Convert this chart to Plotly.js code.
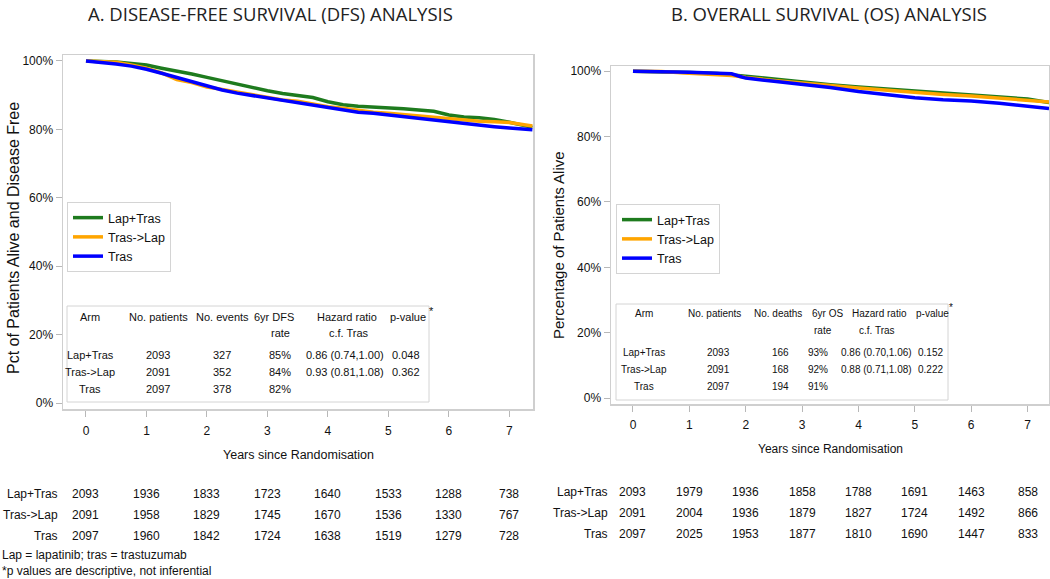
<!DOCTYPE html>
<html>
<head>
<meta charset="utf-8">
<script src="https://cdn.plot.ly/plotly-3.0.1.min.js"></script>
<style>
html,body{margin:0;padding:0;background:#fff;}
#chart{width:1050px;height:579px;}
</style>
</head>
<body>
<div id="chart"></div>
<script>
// ---------------- DATA ----------------
const armNames = ['Lap+Tras', 'Tras->Lap', 'Tras'];
const armColors = ['#1E7B1E', '#FFA500', '#0000FF'];

// DFS Kaplan-Meier curves (years, % alive and disease free)
const dfsYears = [0,0.25,0.5,0.75,1,1.25,1.5,1.75,2,2.25,2.5,2.75,3,3.25,3.5,3.75,4,4.25,4.5,4.75,5,5.25,5.5,5.75,6,6.25,6.5,6.75,7,7.38];
const dfsLapTras = [100,99.9,99.7,99.3,98.8,97.9,97.1,96.2,95.2,94.2,93.3,92.3,91.3,90.5,89.8,89.3,88.1,87.2,86.8,86.6,86.3,86.0,85.7,85.3,84.2,83.6,83.4,82.9,82.1,80.6];
const dfsTrasLap = [100,99.9,99.6,98.8,97.9,96.5,94.6,93.7,92.4,91.7,90.9,90.3,89.4,88.6,88.2,87.4,86.6,86.2,85.5,85.0,84.7,84.3,83.9,83.5,83.0,82.7,82.4,82.2,82.0,81.0];
const dfsTras = [100,99.6,99.1,98.5,97.6,96.4,95.2,94.0,92.7,91.5,90.6,89.9,89.0,88.3,87.6,86.9,86.2,85.5,85.0,84.7,84.2,83.7,83.1,82.7,82.2,81.6,81.2,80.8,80.4,79.9];

// OS Kaplan-Meier curves (years, % alive)
const osYears = [0,0.5,1,1.5,1.75,1.9,2,2.5,3,3.5,4,4.5,5,5.5,6,6.5,7,7.38];
const osLapTras = [100,99.9,99.6,99.3,99.0,98.8,98.5,97.6,96.7,95.9,95.2,94.6,94.0,93.3,92.7,92.1,91.5,90.4];
const osTrasLap = [100,99.9,99.4,99.0,98.7,98.4,98.1,97.2,96.3,95.6,94.9,94.2,93.5,92.9,92.4,91.8,91.3,90.6];
const osTras = [100,99.9,99.7,99.4,99.2,98.4,97.9,96.9,96.0,95.0,93.8,92.8,91.9,91.3,90.9,90.2,89.2,88.6];

// axis ticks
const xTickVals = [0,1,2,3,4,5,6,7];
const yTickVals = [0,20,40,60,80,100];
const yTickText = ['0%','20%','40%','60%','80%','100%'];

// summary tables
const dfsPatients = ['2093','2091','2097'];
const dfsEvents = ['327','352','378'];
const dfsRate = ['85%','84%','82%'];
const dfsHR = ['0.86 (0.74,1.00)','0.93 (0.81,1.08)',''];
const dfsP = ['0.048','0.362',''];
const osPatients = ['2093','2091','2097'];
const osDeaths = ['166','168','194'];
const osRate = ['93%','92%','91%'];
const osHR = ['0.86 (0.70,1.06)','0.88 (0.71,1.08)',''];
const osP = ['0.152','0.222',''];

// numbers at risk
const riskYears = [0,1,2,3,4,5,6,7];
const dfsRiskLapTras = [2093,1936,1833,1723,1640,1533,1288,738];
const dfsRiskTrasLap = [2091,1958,1829,1745,1670,1536,1330,767];
const dfsRiskTras = [2097,1960,1842,1724,1638,1519,1279,728];
const osRiskLapTras = [2093,1979,1936,1858,1788,1691,1463,858];
const osRiskTrasLap = [2091,2004,1936,1879,1827,1724,1492,866];
const osRiskTras = [2097,2025,1953,1877,1810,1690,1447,833];

// ---------------- LAYOUT HELPERS ----------------
const W = 1050, H = 579;
const px = x => x / W;
const py = y => 1 - y / H;
const FN = "'Liberation Sans', Arial, sans-serif";
const TXT = '#111';

const traces = [];
const dfsSeries = [dfsLapTras, dfsTrasLap, dfsTras];
const osSeries = [osLapTras, osTrasLap, osTras];
for (let i = 0; i < 3; i++) {
  traces.push({x: dfsYears, y: dfsSeries[i], type: 'scatter', mode: 'lines', name: armNames[i],
    line: {color: armColors[i], width: 3.5}, xaxis: 'x', yaxis: 'y', legend: 'legend', hoverinfo: 'skip'});
}
for (let i = 0; i < 3; i++) {
  traces.push({x: osYears, y: osSeries[i], type: 'scatter', mode: 'lines', name: armNames[i],
    line: {color: armColors[i], width: 3.5}, xaxis: 'x2', yaxis: 'y2', legend: 'legend2', hoverinfo: 'skip'});
}

const ann = [];
function A(text, x, y, opts, size) {
  ann.push(Object.assign({text: text, x: px(x), y: py(y), xref: 'paper', yref: 'paper',
    showarrow: false, xanchor: 'center', yanchor: 'middle',
    font: {family: FN, size: size || 11, color: TXT}}, opts || {}));
}

// main titles
const TF = {family: "'Open Sans', 'Noto Sans', sans-serif", size: 18.5, color: '#222'};
A('A. DISEASE-FREE SURVIVAL (DFS) ANALYSIS', 270, 13.5, {font: TF});
A('B. OVERALL SURVIVAL (OS) ANALYSIS', 829, 13.5, {font: TF});

// y axis titles
A('Pct of Patients Alive and Disease Free', 13, 238, {textangle: -90, font: {family: FN, size: 16, color: TXT}});
A('Percentage of Patients Alive', 558, 245, {textangle: -90, font: {family: FN, size: 15, color: TXT}});

// x axis titles
A('Years since Randomisation', 298, 455, {font: {family: FN, size: 12.5, color: TXT}});
A('Years since Randomisation', 830, 449, {font: {family: FN, size: 12, color: TXT}});

// DFS summary table
const lt = {arm: 90, pat: 158, ev: 222, rate: 280, hr: 345, p: 406};
A('Arm', lt.arm, 317); A('No. patients', lt.pat, 317); A('No. events', lt.ev, 317);
A('6yr DFS', lt.rate - 6, 317); A('rate', lt.rate, 333);
A('Hazard ratio', lt.hr + 2, 317); A('c.f. Tras', lt.hr + 4, 333);
A('p-value', lt.p + 2, 317); A('*', 431, 311);
const lRows = [355, 372, 389];
for (let i = 0; i < 3; i++) {
  A(armNames[i], lt.arm, lRows[i]); A(dfsPatients[i], lt.pat, lRows[i]); A(dfsEvents[i], lt.ev, lRows[i]);
  A(dfsRate[i], lt.rate, lRows[i]); if (dfsHR[i]) A(dfsHR[i], lt.hr, lRows[i]); if (dfsP[i]) A(dfsP[i], lt.p, lRows[i]);
}

// OS summary table (slightly smaller text, narrower panel)
const rt = {arm: 644, pat: 714, ev: 778, rate: 818, hr: 876, p: 932};
const S = 10;
A('Arm', rt.arm, 313, null, S); A('No. patients', rt.pat, 313, null, S); A('No. deaths', rt.ev, 313, null, S);
A('6yr OS', rt.rate + 9, 313, null, S); A('rate', rt.rate + 5, 330, null, S);
A('Hazard ratio', rt.hr + 3, 313, null, S); A('c.f. Tras', rt.hr + 1, 330, null, S);
A('p-value', rt.p, 313, null, S); A('*', 951, 307, null, S);
const rRows = [352, 369, 386];
for (let i = 0; i < 3; i++) {
  A(armNames[i], rt.arm, rRows[i], null, S); A(osPatients[i], rt.pat + 4, rRows[i], null, S); A(osDeaths[i], rt.ev + 2, rRows[i], null, S);
  A(osRate[i], rt.rate, rRows[i], null, S); if (osHR[i]) A(osHR[i], rt.hr, rRows[i], null, S); if (osP[i]) A(osP[i], rt.p - 2, rRows[i], null, S);
}

// numbers at risk
const dfsRisk = [dfsRiskLapTras, dfsRiskTrasLap, dfsRiskTras];
const osRisk = [osRiskLapTras, osRiskTrasLap, osRiskTras];
const lRisk = [494, 515, 536];
const rRisk = [492, 513, 534];
const RF = {family: FN, size: 12, color: TXT};
for (let i = 0; i < 3; i++) {
  A(armNames[i], 60, lRisk[i], {xanchor: 'right', font: RF});
  A(armNames[i], 610, rRisk[i], {xanchor: 'right', font: RF});
  for (let j = 0; j < riskYears.length; j++) {
    ann.push({text: String(dfsRisk[i][j]), x: riskYears[j], xref: 'x', y: py(lRisk[i]), yref: 'paper',
      showarrow: false, xanchor: 'center', yanchor: 'middle', font: RF});
    ann.push({text: String(osRisk[i][j]), x: riskYears[j], xref: 'x2', y: py(rRisk[i]), yref: 'paper',
      showarrow: false, xanchor: 'center', yanchor: 'middle', font: RF});
  }
}

// footnotes
A('Lap = lapatinib; tras = trastuzumab', 0, 555, {xanchor: 'left', font: {family: FN, size: 12, color: TXT}});
A('*p values are descriptive, not inferential', 0, 571, {xanchor: 'left', font: {family: FN, size: 12, color: TXT}});

const shapes = [
  {type: 'rect', xref: 'paper', yref: 'paper', x0: px(67), x1: px(429), y0: py(402), y1: py(306),
   line: {color: '#d4d4d4', width: 1}, fillcolor: 'rgba(255,255,255,0)'},
  {type: 'rect', xref: 'paper', yref: 'paper', x0: px(616), x1: px(948), y0: py(400), y1: py(304),
   line: {color: '#d4d4d4', width: 1}, fillcolor: 'rgba(255,255,255,0)'}
];

const axCommon = {
  showgrid: false, zeroline: false, showline: true, mirror: true, linecolor: '#cfcfcf', linewidth: 1.5,
  ticks: 'outside', ticklen: 6, tickcolor: '#b8b8b8', tickwidth: 1,
  tickfont: {family: FN, size: 12, color: TXT}, fixedrange: true
};

const LF = {family: FN, size: 12.5, color: TXT};
const layout = {
  width: W, height: H,
  margin: {l: 0, r: 0, t: 0, b: 0},
  paper_bgcolor: '#fff', plot_bgcolor: '#fff',
  showlegend: true,
  xaxis: Object.assign({}, axCommon, {domain: [px(63), px(533)], range: [-0.38, 7.39], tickvals: xTickVals, anchor: 'y', ticklabelstandoff: 4}),
  yaxis: Object.assign({}, axCommon, {domain: [py(409), py(55)], range: [-1.75, 101.75], tickvals: yTickVals, ticktext: yTickText, anchor: 'x'}),
  xaxis2: Object.assign({}, axCommon, {domain: [px(611), px(1049)], range: [-0.39, 7.38], tickvals: xTickVals, anchor: 'y2', ticklabelstandoff: 3}),
  yaxis2: Object.assign({}, axCommon, {domain: [py(404), py(66)], range: [-1.8, 101.6], tickvals: yTickVals, ticktext: yTickText, anchor: 'x2'}),
  legend: {x: px(67), y: py(202), xanchor: 'left', yanchor: 'top', bgcolor: '#fff', bordercolor: '#d4d4d4', borderwidth: 1,
    font: LF, tracegroupgap: 0, itemwidth: 30},
  legend2: {x: px(616), y: py(204), xanchor: 'left', yanchor: 'top', bgcolor: '#fff', bordercolor: '#d4d4d4', borderwidth: 1,
    font: LF, tracegroupgap: 0, itemwidth: 30},
  annotations: ann,
  shapes: shapes
};

Plotly.newPlot('chart', traces, layout, {staticPlot: true, displayModeBar: false});
</script>
</body>
</html>
